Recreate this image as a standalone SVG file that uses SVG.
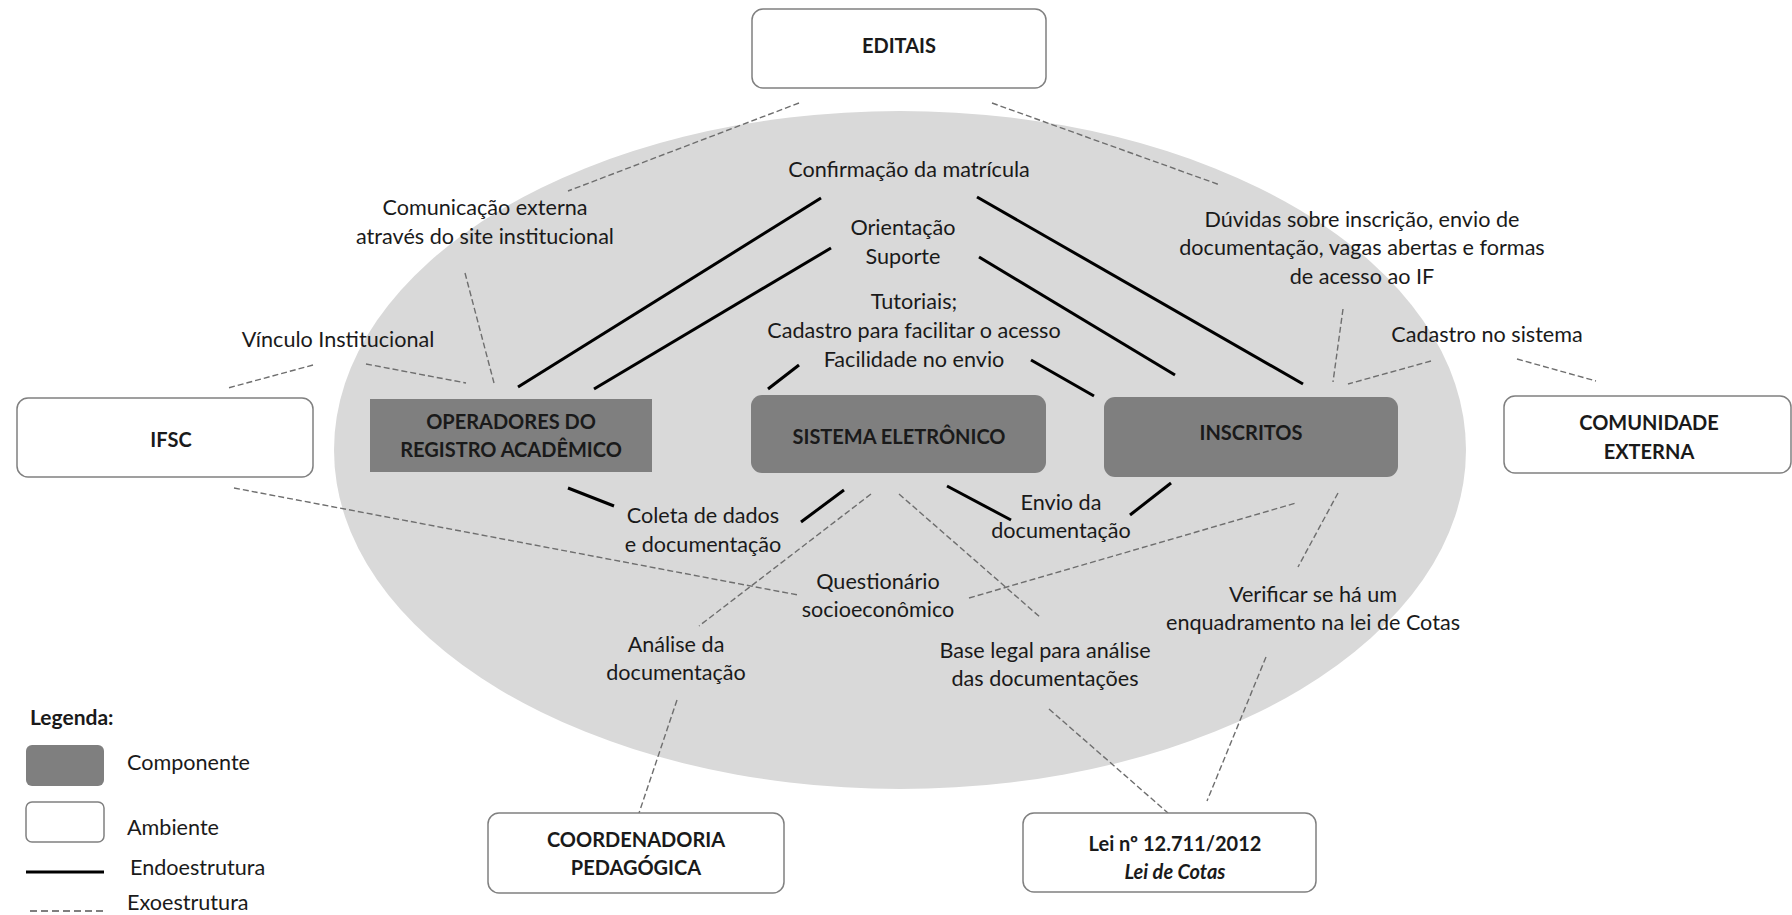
<svg xmlns="http://www.w3.org/2000/svg" width="1792" height="915" viewBox="0 0 1792 915">
<style>
.t{font-family:Lato,"Liberation Sans",sans-serif;font-size:21.6px;fill:#1a1a1a;text-anchor:middle}
.b{font-weight:bold;font-size:20px}
.s{text-anchor:start}
.env{fill:#fff;stroke:#808080;stroke-width:1.5}
.comp{fill:#7f7f7f;stroke:none}
.endo{stroke:#000;stroke-width:3;fill:none}
.exo{stroke:#6e6e6e;stroke-width:1.4;stroke-dasharray:6 3;fill:none}
</style>
<rect width="1792" height="915" fill="#fff"/>
<ellipse cx="900" cy="450" rx="566" ry="339" fill="#d9d9d9"/>
<g id="connectors">
<line class="endo" x1="518" y1="387" x2="821" y2="198"/>
<line class="endo" x1="594" y1="389" x2="831" y2="248"/>
<line class="endo" x1="768" y1="389" x2="799" y2="365"/>
<line class="endo" x1="977" y1="197" x2="1303" y2="384"/>
<line class="endo" x1="979" y1="257" x2="1175" y2="375"/>
<line class="endo" x1="1031" y1="360" x2="1094" y2="396"/>
<line class="endo" x1="568" y1="488" x2="614" y2="506"/>
<line class="endo" x1="844" y1="490" x2="801" y2="522"/>
<line class="endo" x1="947" y1="486" x2="1011" y2="520"/>
<line class="endo" x1="1171" y1="483" x2="1130" y2="515"/>
<line class="exo" x1="799" y1="103" x2="568" y2="191"/>
<line class="exo" x1="992" y1="103" x2="1220" y2="185"/>
<line class="exo" x1="465" y1="273" x2="494" y2="383"/>
<line class="exo" x1="313" y1="365" x2="228" y2="388"/>
<line class="exo" x1="366" y1="364" x2="466" y2="383"/>
<line class="exo" x1="1343" y1="309" x2="1333" y2="382"/>
<line class="exo" x1="1431" y1="361" x2="1348" y2="384"/>
<line class="exo" x1="1517" y1="359" x2="1596" y2="381"/>
<line class="exo" x1="234" y1="488" x2="798" y2="595"/>
<line class="exo" x1="871" y1="494" x2="699" y2="626"/>
<line class="exo" x1="677" y1="700" x2="637" y2="819"/>
<line class="exo" x1="899" y1="494" x2="1041" y2="618"/>
<line class="exo" x1="969" y1="598" x2="1296" y2="503"/>
<line class="exo" x1="1338" y1="493" x2="1298" y2="567"/>
<line class="exo" x1="1049" y1="709" x2="1168" y2="813"/>
<line class="exo" x1="1266" y1="657" x2="1207" y2="801"/>
</g>
<g id="labels">
<text class="t" x="909" y="177">Confirmação da matrícula</text>
<text class="t" x="903" y="235">Orientação</text>
<text class="t" x="903" y="264">Suporte</text>
<text class="t" x="914" y="309">Tutoriais;</text>
<text class="t" x="914" y="338">Cadastro para facilitar o acesso</text>
<text class="t" x="914" y="367">Facilidade no envio</text>
<text class="t" x="485" y="215">Comunicação externa</text>
<text class="t" x="485" y="244">através do site institucional</text>
<text class="t" x="338" y="347">Vínculo Institucional</text>
<text class="t" x="1362" y="227">Dúvidas sobre inscrição, envio de</text>
<text class="t" x="1362" y="255">documentação, vagas abertas e formas</text>
<text class="t" x="1362" y="284">de acesso ao IF</text>
<text class="t" x="1487" y="342">Cadastro no sistema</text>
<text class="t" x="703" y="523">Coleta de dados</text>
<text class="t" x="703" y="552">e documentação</text>
<text class="t" x="878" y="589">Questionário</text>
<text class="t" x="878" y="617">socioeconômico</text>
<text class="t" x="676" y="652">Análise da</text>
<text class="t" x="676" y="680">documentação</text>
<text class="t" x="1061" y="510">Envio da</text>
<text class="t" x="1061" y="538">documentação</text>
<text class="t" x="1313" y="602">Verificar se há um</text>
<text class="t" x="1313" y="630">enquadramento na lei de Cotas</text>
<text class="t" x="1045" y="658">Base legal para análise</text>
<text class="t" x="1045" y="686">das documentações</text>
</g>
<g id="editais">
<rect class="env" x="752" y="9" width="294" height="79" rx="11"/>
<text class="t b" x="899" y="53">EDITAIS</text>
</g>
<g id="ifsc">
<rect class="env" x="17" y="398" width="296" height="79" rx="11"/>
<text class="t b" x="171" y="447">IFSC</text>
</g>
<g id="operadores">
<rect class="comp" x="370" y="399" width="282" height="73"/>
<text class="t b" x="511" y="429">OPERADORES DO</text>
<text class="t b" x="511" y="457">REGISTRO ACADÊMICO</text>
</g>
<g id="sistema">
<rect class="comp" x="751" y="395" width="295" height="78" rx="11"/>
<text class="t b" x="899" y="444">SISTEMA ELETRÔNICO</text>
</g>
<g id="inscritos">
<rect class="comp" x="1104" y="397" width="294" height="80" rx="11"/>
<text class="t b" x="1251" y="440">INSCRITOS</text>
</g>
<g id="comunidade">
<rect class="env" x="1504" y="396" width="287" height="77" rx="11"/>
<text class="t b" x="1649" y="430">COMUNIDADE</text>
<text class="t b" x="1649" y="459">EXTERNA</text>
</g>
<g id="coordenadoria">
<rect class="env" x="488" y="813" width="296" height="80" rx="11"/>
<text class="t b" x="636" y="847">COORDENADORIA</text>
<text class="t b" x="636" y="875">PEDAGÓGICA</text>
</g>
<g id="lei">
<rect class="env" x="1023" y="813" width="293" height="79" rx="11"/>
<text class="t b" x="1175" y="851">Lei nº 12.711/2012</text>
<text class="t b" x="1175" y="879" font-style="italic">Lei de Cotas</text>
</g>
<g id="legenda">
<text class="t b s" x="30" y="725" style="font-size:21px">Legenda:</text>
<rect class="comp" x="26" y="745" width="78" height="41" rx="6"/>
<text class="t s" x="127" y="770">Componente</text>
<rect class="env" x="26" y="802" width="78" height="40" rx="6"/>
<text class="t s" x="127" y="835">Ambiente</text>
<line class="endo" x1="26" y1="872" x2="104" y2="872"/>
<text class="t s" x="130" y="875">Endoestrutura</text>
<line x1="30" y1="911" x2="104" y2="911" stroke="#555" stroke-width="1.3" stroke-dasharray="7 4"/>
<text class="t s" x="127" y="910">Exoestrutura</text>
</g>
</svg>
